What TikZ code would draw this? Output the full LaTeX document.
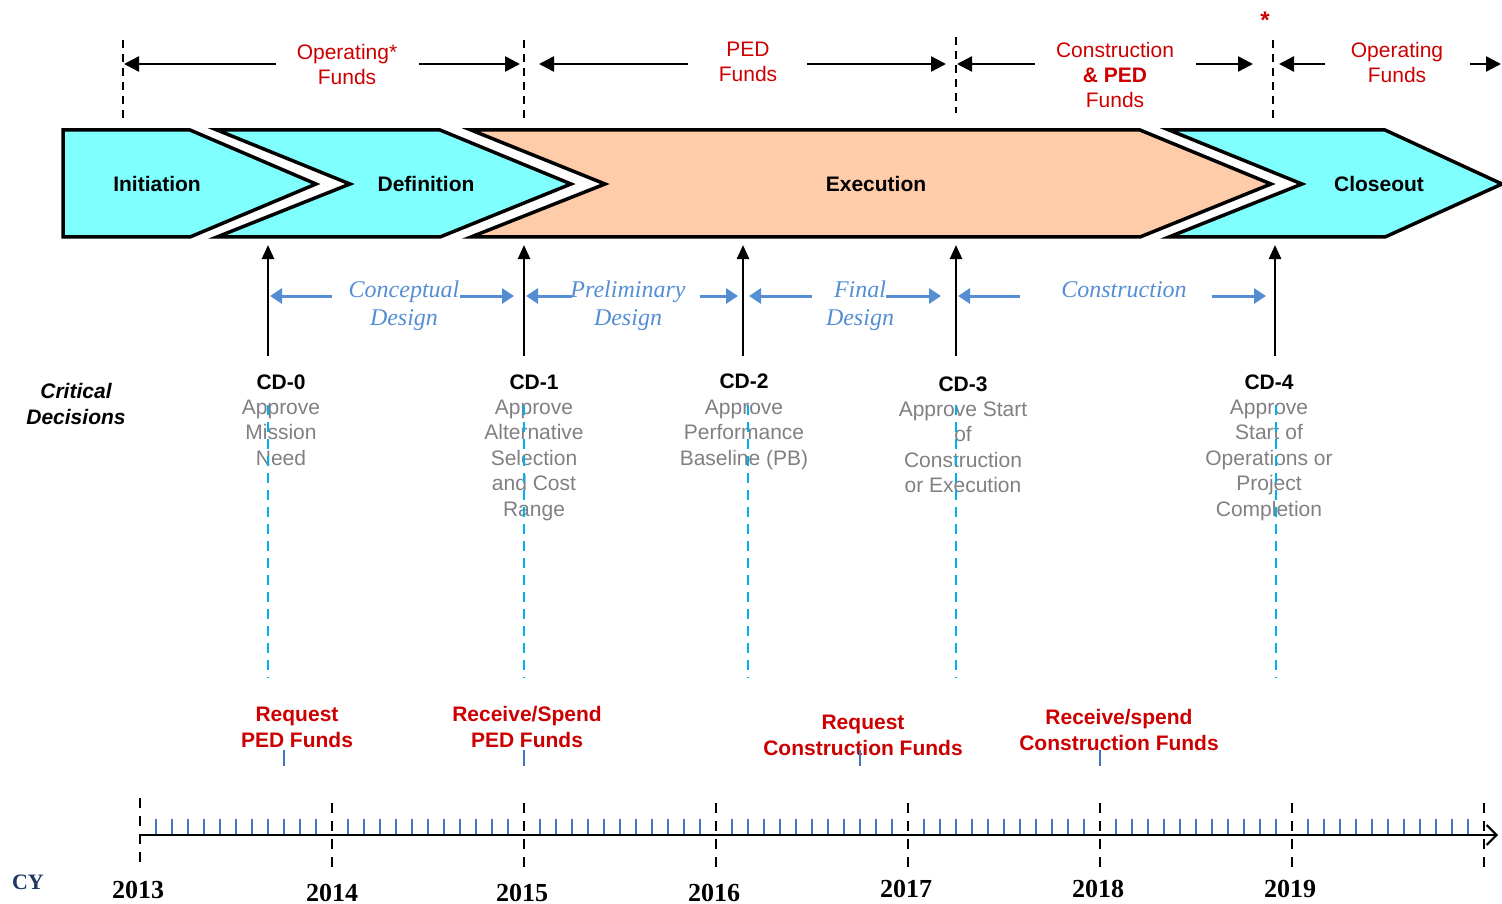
\documentclass[tikz,border=0pt]{standalone}
\usepackage{fontspec}
\setmainfont{Liberation Sans}
\newfontfamily\tnr{Liberation Serif}
\usetikzlibrary{arrows.meta}
\definecolor{fundred}{RGB}{204,0,0}
\definecolor{cyanfill}{RGB}{128,255,255}
\definecolor{salmonfill}{RGB}{255,204,170}
\definecolor{designblue}{RGB}{85,142,213}
\definecolor{cdgray}{RGB}{128,128,128}
\definecolor{dashcyan}{RGB}{0,176,240}
\definecolor{tickblue}{RGB}{68,114,196}
\definecolor{cynavy}{RGB}{31,56,100}
\begin{document}
\begin{tikzpicture}[x=1pt,y=-1pt,
  phase/.style={draw=black,line width=3.5pt,line join=miter},
  phasetxt/.style={font=\fontsize{21}{25}\selectfont\bfseries,inner sep=0pt},
  fundtxt/.style={text=fundred,align=center,font=\fontsize{21}{25}\selectfont,inner sep=0pt,anchor=base},
  fundarrow/.style={line width=2.5pt,-{Triangle[length=15pt,width=15pt]}},
  fundline/.style={line width=1.8pt,dash pattern=on 8pt off 6pt},
  cdarrow/.style={line width=2.5pt,-{Triangle[length=14pt,width=12pt]}},
  designarrow/.style={designblue,line width=3pt,-{Triangle[length=12pt,width=15pt]}},
  designtxt/.style={text=designblue,align=center,font=\fontsize{24}{28.5}\selectfont\tnr\itshape,inner sep=0pt,anchor=base},
  cdtitle/.style={font=\fontsize{21}{25}\selectfont\bfseries,inner sep=0pt,anchor=base},
  cddesc/.style={text=cdgray,align=center,font=\fontsize{21}{25.5}\selectfont,inner sep=0pt,anchor=base},
  cdline/.style={dashcyan,line width=1.8pt,dash pattern=on 10pt off 7pt},
  reqtxt/.style={text=fundred,align=center,font=\fontsize{21}{26}\selectfont\bfseries,inner sep=0pt,anchor=base},
  reqtick/.style={tickblue,line width=1.5pt},
  yearline/.style={line width=2pt,dash pattern=on 10pt off 8pt},
  yeartxt/.style={font=\fontsize{26}{30}\selectfont\tnr\bfseries,inner sep=0pt,anchor=base},
  monthtick/.style={tickblue,line width=1.8pt}]
\useasboundingbox (0,0) rectangle (1502,904);

% ---------- funds row ----------
\foreach \n/\x/\ya/\yb in {d1/123/40/118, d2/524/40/118, d3/956/37/113, d4/1273/40/120}{
  \coordinate (\n t) at (\x,\ya);
  \coordinate (\n b) at (\x,\yb);
  \draw[fundline] (\n t) -- (\n b);
}
% (anchor=base of a multi-line node is the baseline of its last line)
\node[fundtxt] (opf1) at (347,85) {Operating*\\Funds};
\node[fundtxt] (pedf) at (748,82) {PED\\Funds};
\node[fundtxt] (conf) at (1115,108) {Construction\\\textbf{\& PED}\\Funds};
\node[fundtxt] (opf2) at (1397,83) {Operating\\Funds};
\node[text=fundred,font=\fontsize{24}{26}\selectfont\bfseries,inner sep=0pt] (star) at (1265,20) {*};

\coordinate (a1s) at (276,64); \coordinate (a1e) at (124,64);
\coordinate (a2s) at (419,64); \coordinate (a2e) at (520,64);
\coordinate (a3s) at (688,64); \coordinate (a3e) at (539,64);
\coordinate (a4s) at (807,64); \coordinate (a4e) at (946,64);
\coordinate (a5s) at (1035,64); \coordinate (a5e) at (957,64);
\coordinate (a6s) at (1196,64); \coordinate (a6e) at (1253,64);
\coordinate (a7s) at (1325,64); \coordinate (a7e) at (1279,64);
\coordinate (a8s) at (1470,64); \coordinate (a8e) at (1501,64);
\foreach \i in {1,...,8}{\draw[fundarrow] (a\i s) -- (a\i e);}

% ---------- phases ----------
\draw[phase,fill=cyanfill] (63,130) -- (190,130) -- (316,184) -- (190,237) -- (63,237) -- cycle;
\draw[phase,fill=cyanfill] (217,130) -- (440,130) -- (571,184) -- (440,237) -- (217,237) -- (350,184) -- cycle;
\draw[phase,fill=salmonfill] (471,130) -- (1140,130) -- (1271,184) -- (1140,237) -- (471,237) -- (605,184) -- cycle;
\draw[phase,fill=cyanfill] (1169,130) -- (1385,130) -- (1502,184) -- (1385,237) -- (1169,237) -- (1302,184) -- cycle;
\node[phasetxt] (init) at (157,184) {Initiation};
\node[phasetxt] (defn) at (426,184) {Definition};
\node[phasetxt] (exec) at (876,184) {Execution};
\node[phasetxt] (clos) at (1379,184) {Closeout};

% ---------- CD arrows ----------
\foreach \n/\x in {c0/268, c1/524, c2/743, c3/956, c4/1275}{
  \coordinate (\n s) at (\x,356);
  \coordinate (\n e) at (\x,245);
  \draw[cdarrow] (\n s) -- (\n e);
}

% ---------- design phases ----------
\node[designtxt] (concd) at (404,325.5) {Conceptual\\Design};
\node[designtxt] (prelimd) at (628,325.5) {Preliminary\\Design};
\node[designtxt] (finald) at (860,325.5) {Final\\Design};
\node[designtxt] (constd) at (1124,297) {Construction};
\coordinate (b1s) at (332,296); \coordinate (b1e) at (270,296);
\coordinate (b2s) at (460,296); \coordinate (b2e) at (514,296);
\coordinate (b3s) at (572,296); \coordinate (b3e) at (526,296);
\coordinate (b4s) at (700,296); \coordinate (b4e) at (738,296);
\coordinate (b5s) at (812,296); \coordinate (b5e) at (749,296);
\coordinate (b6s) at (886,296); \coordinate (b6e) at (941,296);
\coordinate (b7s) at (1020,296); \coordinate (b7e) at (958,296);
\coordinate (b8s) at (1212,296); \coordinate (b8e) at (1266,296);
\foreach \i in {1,...,8}{\draw[designarrow] (b\i s) -- (b\i e);}

% ---------- critical decisions ----------
\node[font=\fontsize{21}{26}\selectfont\bfseries\itshape,align=center,inner sep=0pt,anchor=base] (crit) at (76,424) {Critical\\Decisions};
\node[cdtitle] (cd0) at (281,389) {CD-0};
\node[cdtitle] (cd1) at (534,389) {CD-1};
\node[cdtitle] (cd2) at (744,388) {CD-2};
\node[cdtitle] (cd3) at (963,391) {CD-3};
\node[cdtitle] (cd4) at (1269,389) {CD-4};
\node[cddesc] (cd0d) at (281,465) {Approve\\Mission\\Need};
\node[cddesc] (cd1d) at (534,516) {Approve\\Alternative\\Selection\\and Cost\\Range};
\node[cddesc] (cd2d) at (744,465) {Approve\\Performance\\Baseline (PB)};
\node[cddesc] (cd3d) at (963,492.5) {Approve Start\\of\\Construction\\or Execution};
\node[cddesc] (cd4d) at (1269,516) {Approve\\Start of\\Operations or\\Project\\Completion};
\foreach \n/\x in {c0/268, c1/524, c2/748, c3/956, c4/1276}{
  \coordinate (\n u) at (\x,405);
  \coordinate (\n d) at (\x,678);
  \draw[cdline] (\n u) -- (\n d);
}

% ---------- funding requests ----------
\node[reqtxt] (req1) at (297,747) {Request\\PED Funds};
\node[reqtxt] (rec1) at (527,747) {Receive/Spend\\PED Funds};
\node[reqtxt] (req2) at (863,755) {Request\\Construction Funds};
\node[reqtxt] (rec2) at (1119,750) {Receive/spend\\Construction Funds};
\foreach \n/\x in {r1/284, r2/524, r3/860, r4/1100}{
  \coordinate (\n t) at (\x,750);
  \coordinate (\n b) at (\x,766);
  \draw[reqtick] (\n t) -- (\n b);
}

% ---------- timeline ----------
\foreach \k in {1,...,83}{
  \pgfmathtruncatemacro\mm{mod(\k,12)}
  \ifnum\mm=0\relax\else
    \draw[monthtick] (140+16*\k,819) -- (140+16*\k,835);
  \fi
}
\coordinate (tls) at (140,835);
\coordinate (tle) at (1498,835);
\draw[line width=2.5pt,-{Straight Barb[length=10pt,width=20pt,line width=2pt]}] (tls) -- (tle);
\foreach \n/\x/\ya in {y0/140/798, y1/332/803, y2/524/803, y3/716/803, y4/908/803, y5/1100/803, y6/1292/803, y7/1484/803}{
  \coordinate (\n t) at (\x,\ya);
  \coordinate (\n b) at (\x,\ya+65);
  \draw[yearline] (\n t) -- (\n b);
}
\node[yeartxt] (yr13) at (138,898) {2013};
\node[yeartxt] (yr14) at (332,901) {2014};
\node[yeartxt] (yr15) at (522,901) {2015};
\node[yeartxt] (yr16) at (714,901) {2016};
\node[yeartxt] (yr17) at (906,897) {2017};
\node[yeartxt] (yr18) at (1098,897) {2018};
\node[yeartxt] (yr19) at (1290,897) {2019};
\node[font=\fontsize{22}{26}\selectfont\tnr\bfseries,text=cynavy,inner sep=0pt,anchor=base] (cy) at (28,889) {CY};
\end{tikzpicture}
\end{document}
